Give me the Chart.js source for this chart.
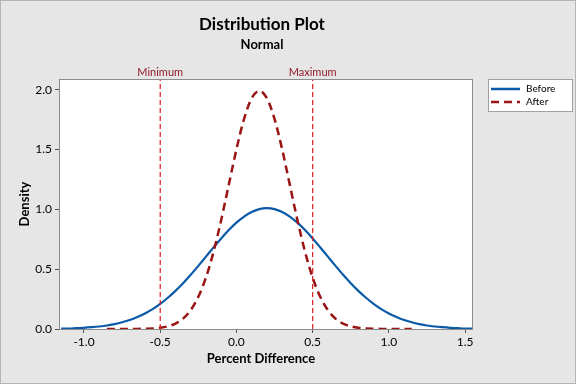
<!DOCTYPE html>
<html>
<head>
<meta charset="utf-8">
<script src="https://cdn.jsdelivr.net/npm/chart.js@4/dist/chart.umd.min.js"></script>
<style>
    html, body { margin: 0; padding: 0; background: #e6e6e6; }
    #wrap { width: 576px; height: 384px; }
</style>
</head>
<body>
<div id="wrap"><canvas id="distChart" width="576" height="384"></canvas></div>
<script>
// values
const beforeX = [-1.15, -1.10, -1.05, -1.00, -0.95, -0.90, -0.85, -0.80, -0.75, -0.70, -0.65, -0.60, -0.55, -0.50, -0.45, -0.40, -0.35, -0.30, -0.25, -0.20, -0.15, -0.10, -0.05, 0.00, 0.05, 0.10, 0.15, 0.20, 0.25, 0.30, 0.35, 0.40, 0.45, 0.50, 0.55, 0.60, 0.65, 0.70, 0.75, 0.80, 0.85, 0.90, 0.95, 1.00, 1.05, 1.10, 1.15, 1.20, 1.25, 1.30, 1.35, 1.40, 1.45, 1.50, 1.55];
const beforeY = [0.003, 0.004, 0.007, 0.010, 0.015, 0.021, 0.029, 0.041, 0.056, 0.075, 0.100, 0.130, 0.166, 0.210, 0.261, 0.319, 0.383, 0.453, 0.528, 0.605, 0.682, 0.757, 0.827, 0.889, 0.940, 0.978, 1.002, 1.010, 1.002, 0.978, 0.940, 0.889, 0.827, 0.757, 0.682, 0.605, 0.528, 0.453, 0.383, 0.319, 0.261, 0.210, 0.166, 0.130, 0.100, 0.075, 0.056, 0.041, 0.029, 0.021, 0.015, 0.010, 0.007, 0.004, 0.003];

const afterX = [-0.85, -0.80, -0.75, -0.70, -0.65, -0.60, -0.55, -0.50, -0.45, -0.40, -0.35, -0.30, -0.25, -0.20, -0.15, -0.10, -0.05, 0.00, 0.05, 0.10, 0.15, 0.20, 0.25, 0.30, 0.35, 0.40, 0.45, 0.50, 0.55, 0.60, 0.65, 0.70, 0.75, 0.80, 0.85, 0.90, 0.95, 1.00, 1.05, 1.10, 1.15];
const afterY = [0.000, 0.000, 0.000, 0.000, 0.001, 0.002, 0.004, 0.010, 0.022, 0.045, 0.087, 0.158, 0.269, 0.430, 0.646, 0.911, 1.207, 1.502, 1.756, 1.929, 1.990, 1.929, 1.756, 1.502, 1.207, 0.911, 0.646, 0.430, 0.269, 0.158, 0.087, 0.045, 0.022, 0.010, 0.004, 0.002, 0.001, 0.000, 0.000, 0.000, 0.000];

const refLines = [-0.5, 0.5];
const refLabels = ['Minimum', 'Maximum'];
const xTicks = [-1.0, -0.5, 0.0, 0.5, 1.0, 1.5];
const yTicks = [0.0, 0.5, 1.0, 1.5, 2.0];

const FONT = "Lato, 'Noto Sans', sans-serif";
const BLUE = '#0a5aa8';
const DARKRED = '#9a1414';
const REFRED = '#d81e1e';

const toPoints = (xs, ys) => xs.map((x, i) => ({ x: x, y: ys[i] }));

const decorPlugin = {
    id: 'decor',
    beforeDraw(chart) {
        const ctx = chart.ctx;
        const a = chart.chartArea;
        ctx.save();
        ctx.fillStyle = '#e6e6e6';
        ctx.fillRect(0, 0, chart.width, chart.height);
        ctx.fillStyle = '#ffffff';
        ctx.fillRect(a.left, a.top, a.right - a.left, a.bottom - a.top);
        ctx.restore();
    },
    afterDraw(chart) {
        const ctx = chart.ctx;
        const a = chart.chartArea;
        const xs = chart.scales.x;
        const cx = (a.left + a.right) / 2;
        ctx.save();
        // outer frame
        ctx.strokeStyle = '#b4b4b4';
        ctx.lineWidth = 1;
        ctx.strokeRect(0.5, 0.5, chart.width - 1, chart.height - 1);
        // plot frame
        ctx.strokeStyle = '#8c8c8c';
        ctx.strokeRect(a.left + 0.5, a.top + 0.5, a.right - a.left - 1, a.bottom - a.top);

        ctx.textAlign = 'center';
        ctx.textBaseline = 'middle';
        ctx.fillStyle = '#000';
        ctx.font = 'bold 17px ' + FONT;
        ctx.fillText('Distribution Plot', cx - 4, 25);
        ctx.font = 'bold 13px ' + FONT;
        ctx.fillText('Normal', cx - 4, 45);

        // axis titles
        ctx.fillText('Percent Difference', cx - 5, 359);
        ctx.save();
        ctx.translate(25, (a.top + a.bottom) / 2);
        ctx.rotate(-Math.PI / 2);
        ctx.fillText('Density', 0, 0);
        ctx.restore();

        // reference line labels
        ctx.font = '11px ' + FONT;
        ctx.fillStyle = '#8e1b28';
        refLines.forEach((v, i) => {
            ctx.fillText(refLabels[i], xs.getPixelForValue(v), 72);
        });

        // legend
        const lx = 488, ly = 79, lw = 85, lh = 33;
        ctx.fillStyle = '#fff';
        ctx.fillRect(lx, ly, lw, lh);
        ctx.strokeStyle = '#a0a0a0';
        ctx.strokeRect(lx + 0.5, ly + 0.5, lw - 1, lh - 1);
        ctx.font = '10px ' + FONT;
        ctx.textAlign = 'left';
        ctx.fillStyle = '#000';
        const items = [
            { label: 'Before', color: BLUE, dash: [], y: ly + 10 },
            { label: 'After', color: DARKRED, dash: [8, 5], y: ly + 23 }
        ];
        items.forEach(it => {
            ctx.beginPath();
            ctx.setLineDash(it.dash);
            ctx.strokeStyle = it.color;
            ctx.lineWidth = 2.5;
            ctx.moveTo(lx + 3, it.y);
            ctx.lineTo(lx + 32, it.y);
            ctx.stroke();
            ctx.setLineDash([]);
            ctx.fillText(it.label, lx + 38, it.y);
        });
        ctx.restore();
    }
};

const refDatasets = refLines.map((v, i) => ({
    label: refLabels[i],
    data: [{ x: v, y: 0 }, { x: v, y: 2.09 }],
    borderColor: REFRED,
    borderWidth: 1.2,
    borderDash: [5, 3],
    pointRadius: 0,
    tension: 0
}));

new Chart(document.getElementById('distChart'), {
    type: 'line',
    data: {
        datasets: [
            ...refDatasets,
            {
                label: 'After',
                data: toPoints(afterX, afterY),
                borderColor: DARKRED,
                borderWidth: 2.5,
                borderDash: [8, 5],
                pointRadius: 0,
                cubicInterpolationMode: 'monotone'
            },
            {
                label: 'Before',
                data: toPoints(beforeX, beforeY),
                borderColor: BLUE,
                borderWidth: 2.2,
                pointRadius: 0,
                cubicInterpolationMode: 'monotone'
            }
        ]
    },
    options: {
        responsive: false,
        animation: false,
        events: [],
        layout: { padding: { top: 79, right: 103, left: 0, bottom: 0 } },
        plugins: {
            legend: { display: false },
            tooltip: { enabled: false },
            title: { display: false }
        },
        scales: {
            x: {
                type: 'linear',
                min: -1.164,
                max: 1.552,
                afterFit(scale) { scale.height = 55; },
                afterBuildTicks(scale) { scale.ticks = xTicks.map(v => ({ value: v })); },
                grid: { drawOnChartArea: false, drawTicks: true, tickLength: 4, color: '#555' },
                border: { display: false },
                ticks: {
                    color: '#000',
                    font: { family: FONT, size: 12 },
                    padding: 2,
                    maxRotation: 0,
                    callback: v => v.toFixed(1)
                }
            },
            y: {
                type: 'linear',
                min: 0,
                max: 2.09,
                afterFit(scale) { scale.width = 59; },
                afterBuildTicks(scale) { scale.ticks = yTicks.map(v => ({ value: v })); },
                grid: { drawOnChartArea: false, drawTicks: true, tickLength: 4, color: '#555' },
                border: { display: false },
                ticks: {
                    color: '#000',
                    font: { family: FONT, size: 12 },
                    padding: 3,
                    callback: v => v.toFixed(1)
                }
            }
        }
    },
    plugins: [decorPlugin]
});
</script>
</body>
</html>
